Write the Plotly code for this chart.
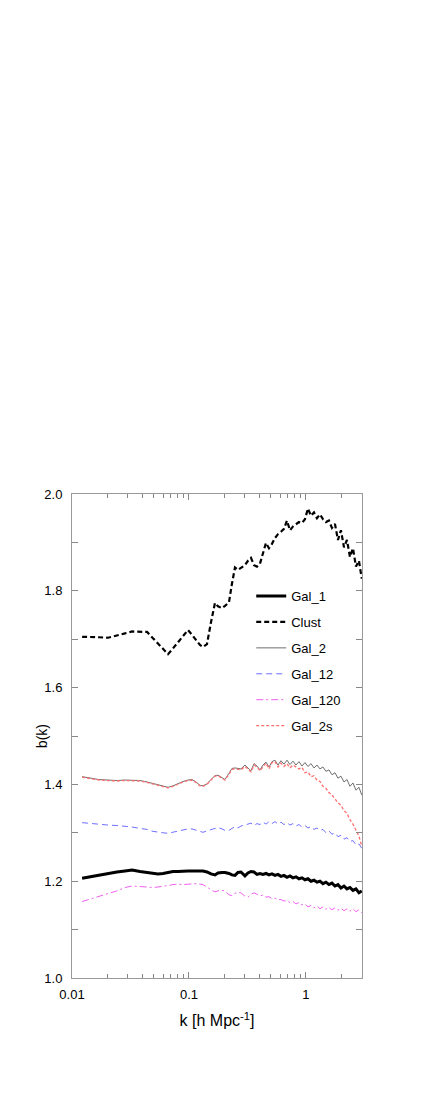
import plotly.graph_objects as go

# wavenumber grid shared by all series (h/Mpc)
k = [0.0122, 0.0143, 0.0170, 0.0203, 0.0242, 0.0284, 0.0326, 0.0381, 0.0438, 0.0492,
     0.0543, 0.0600, 0.0662, 0.0730, 0.0805, 0.0889, 0.0981, 0.1061, 0.1148, 0.1242,
     0.1317, 0.1425, 0.1542, 0.1668, 0.1770, 0.1915, 0.2031, 0.2197, 0.2331, 0.2473,
     0.2623, 0.2782, 0.3010, 0.3193, 0.3388, 0.3594, 0.3813, 0.4044, 0.4290, 0.4551,
     0.4828, 0.5122, 0.5433, 0.5764, 0.6115, 0.6486, 0.6881, 0.7300, 0.7744, 0.8215,
     0.8715, 0.9244, 0.9806, 1.040, 1.104, 1.171, 1.242, 1.317, 1.397, 1.482,
     1.572, 1.668, 1.770, 1.877, 1.991, 2.113, 2.241, 2.377, 2.522, 2.676,
     2.838, 3.0]

gal_1 = [1.206, 1.209, 1.213, 1.216, 1.219, 1.221, 1.223, 1.220, 1.218, 1.216,
         1.215, 1.216, 1.218, 1.220, 1.220, 1.221, 1.221, 1.221, 1.221, 1.221,
         1.221, 1.219, 1.215, 1.213, 1.217, 1.218, 1.218, 1.216, 1.213, 1.212,
         1.218, 1.219, 1.211, 1.217, 1.220, 1.219, 1.214, 1.216, 1.214, 1.216,
         1.213, 1.215, 1.212, 1.214, 1.210, 1.212, 1.208, 1.211, 1.207, 1.209,
         1.205, 1.207, 1.203, 1.205, 1.200, 1.202, 1.198, 1.200, 1.195, 1.198,
         1.193, 1.196, 1.190, 1.193, 1.186, 1.190, 1.184, 1.187, 1.181, 1.184,
         1.176, 1.180]

clust = [1.705, 1.705, 1.704, 1.703, 1.707, 1.712, 1.716, 1.716, 1.715, 1.702,
         1.691, 1.680, 1.669, 1.681, 1.694, 1.706, 1.719, 1.709, 1.699, 1.688,
         1.684, 1.690, 1.735, 1.775, 1.768, 1.764, 1.769, 1.776, 1.815, 1.848,
         1.843, 1.848, 1.853, 1.862, 1.868, 1.853, 1.850, 1.856, 1.880, 1.899,
         1.888, 1.897, 1.909, 1.917, 1.922, 1.928, 1.945, 1.925, 1.933, 1.938,
         1.942, 1.940, 1.948, 1.970, 1.955, 1.962, 1.950, 1.958, 1.948, 1.942,
         1.945, 1.930, 1.938, 1.905, 1.925, 1.890, 1.905, 1.870, 1.888, 1.850,
         1.862, 1.825]

gal_2 = [1.416, 1.413, 1.410, 1.409, 1.408, 1.409, 1.409, 1.408, 1.405, 1.402,
         1.398, 1.396, 1.394, 1.397, 1.402, 1.406, 1.409, 1.410, 1.405, 1.398,
         1.397, 1.401, 1.410, 1.418, 1.419, 1.414, 1.410, 1.423, 1.433, 1.434,
         1.433, 1.432, 1.440, 1.433, 1.428, 1.443, 1.438, 1.430, 1.440, 1.446,
         1.436, 1.447, 1.450, 1.440, 1.449, 1.442, 1.450, 1.441, 1.448, 1.440,
         1.447, 1.438, 1.445, 1.437, 1.443, 1.434, 1.440, 1.432, 1.436, 1.427,
         1.430, 1.420, 1.424, 1.413, 1.417, 1.405, 1.410, 1.396, 1.403, 1.388,
         1.394, 1.378]

gal_12 = [1.321, 1.319, 1.317, 1.316, 1.315, 1.314, 1.312, 1.309, 1.307, 1.303,
          1.301, 1.300, 1.299, 1.301, 1.303, 1.306, 1.308, 1.308, 1.305, 1.302,
          1.301, 1.304, 1.307, 1.310, 1.311, 1.308, 1.305, 1.305, 1.310, 1.313,
          1.310, 1.314, 1.316, 1.318, 1.320, 1.315, 1.319, 1.317, 1.322, 1.318,
          1.323, 1.319, 1.323, 1.318, 1.322, 1.317, 1.321, 1.316, 1.319, 1.314,
          1.317, 1.312, 1.315, 1.310, 1.313, 1.307, 1.310, 1.305, 1.307, 1.300,
          1.304, 1.297, 1.300, 1.292, 1.295, 1.287, 1.290, 1.282, 1.284, 1.275,
          1.277, 1.268]

gal_120 = [1.158, 1.163, 1.168, 1.173, 1.180, 1.187, 1.190, 1.189, 1.188, 1.187,
           1.188, 1.189, 1.191, 1.193, 1.194, 1.193, 1.194, 1.195, 1.195, 1.194,
           1.193, 1.188, 1.182, 1.178, 1.180, 1.181, 1.180, 1.172, 1.170, 1.175,
           1.177, 1.176, 1.169, 1.167, 1.173, 1.176, 1.173, 1.170, 1.171, 1.167,
           1.168, 1.164, 1.165, 1.162, 1.162, 1.159, 1.160, 1.156, 1.158, 1.153,
           1.156, 1.151, 1.153, 1.147, 1.150, 1.145, 1.149, 1.143, 1.147, 1.142,
           1.146, 1.141, 1.145, 1.140, 1.144, 1.139, 1.143, 1.138, 1.143, 1.137,
           1.141, 1.135]

gal_2s = [1.415, 1.412, 1.409, 1.408, 1.407, 1.408, 1.408, 1.407, 1.404, 1.401,
          1.397, 1.395, 1.393, 1.396, 1.401, 1.405, 1.408, 1.409, 1.404, 1.397,
          1.396, 1.400, 1.409, 1.417, 1.418, 1.413, 1.409, 1.421, 1.431, 1.432,
          1.431, 1.430, 1.437, 1.431, 1.426, 1.440, 1.436, 1.428, 1.437, 1.444,
          1.432, 1.445, 1.447, 1.436, 1.444, 1.437, 1.443, 1.434, 1.440, 1.436,
          1.432, 1.435, 1.424, 1.426, 1.416, 1.418, 1.409, 1.406, 1.396, 1.392,
          1.383, 1.378, 1.370, 1.362, 1.357, 1.346, 1.340, 1.327, 1.318, 1.304,
          1.293, 1.272]

series = [
    ("Gal_1", gal_1, dict(color="black", width=3)),
    ("Clust", clust, dict(color="black", width=2.2, dash="5px,3px")),
    ("Gal_2", gal_2, dict(color="#6e6e6e", width=1)),
    ("Gal_12", gal_12, dict(color="#6f6fff", width=1, dash="6px,4px")),
    ("Gal_120", gal_120, dict(color="#f060f0", width=1, dash="7px,3px,2px,3px")),
    ("Gal_2s", gal_2s, dict(color="#ff7070", width=1.3, dash="3px,2px")),
]

fig = go.Figure()
for i, (name, vals, line) in enumerate(series):
    fig.add_trace(go.Scatter(x=k, y=vals, mode="lines", name=name, line=line,
                             legendgroup=str(i)))

font = "Liberation Sans Narrow, Liberation Sans, Arial, sans-serif"
minor_x = [0.02, 0.03, 0.04, 0.05, 0.06, 0.07, 0.08, 0.09,
           0.2, 0.3, 0.4, 0.5, 0.6, 0.7, 0.8, 0.9, 2, 3]

fig.update_layout(
    width=425, height=1100,
    margin=dict(l=64, r=71, t=486, b=130),
    paper_bgcolor="white", plot_bgcolor="white",
    font=dict(family=font, size=13, color="black"),
    showlegend=True,
    legend=dict(x=0.618, y=0.82, xanchor="left", yanchor="top",
                bgcolor="rgba(0,0,0,0)", tracegroupgap=6,
                font=dict(family=font, size=13)),
    xaxis=dict(type="log", range=[-2, 0.479],
               tickvals=[0.01, 0.1, 1], ticktext=["0.01", "0.1", "1"],
               showline=True, linecolor="#999999", linewidth=1, mirror="allticks",
               ticks="inside", ticklen=6, tickcolor="#888888", ticklabelstandoff=4,
               minor=dict(tickvals=minor_x, ticks="inside", ticklen=4, tickcolor="#888888"),
               showgrid=False, zeroline=False,
               title=dict(text="k [h Mpc<sup>-1</sup>]", standoff=14)),
    yaxis=dict(range=[1.0, 2.0], dtick=0.2, tickformat=".1f",
               showline=True, linecolor="#999999", linewidth=1, mirror="allticks",
               ticks="inside", ticklen=6, tickcolor="#888888", ticklabelstandoff=6,
               minor=dict(dtick=0.1, ticks="inside", ticklen=6, tickcolor="#888888"),
               showgrid=False, zeroline=False),
)

# y title placed as an annotation so it sits close to the tick labels
fig.add_annotation(text="b(k)", xref="paper", yref="paper", x=-0.103, y=0.5,
                   xanchor="center", yanchor="middle", textangle=-90,
                   showarrow=False, font=dict(family=font, size=14))

fig.write_html("out.html")
